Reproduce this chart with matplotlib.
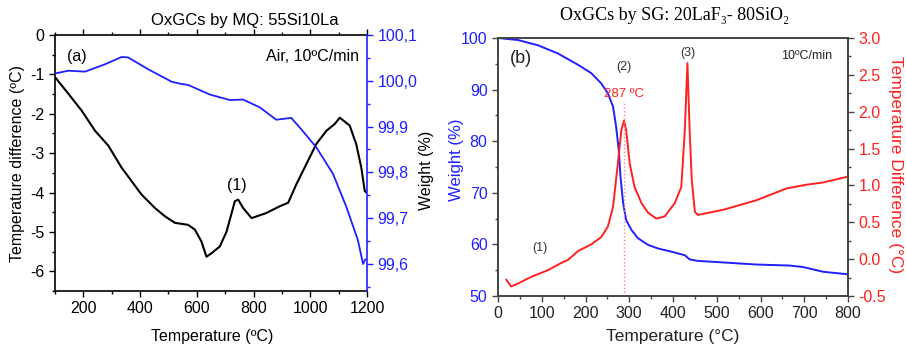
import matplotlib
matplotlib.use("Agg")
import matplotlib.pyplot as plt
from matplotlib.ticker import MultipleLocator, FuncFormatter

plt.rcParams['font.family'] = ['Liberation Sans', 'DejaVu Sans']

# ---- Panel (a) data ----
a_T_dta = [100, 147, 194, 241, 288, 335, 405, 452, 487, 523, 569, 593, 616, 634, 652, 681, 705, 734, 746,
           763, 793, 845, 892, 922, 951, 986, 1021, 1057, 1086, 1104, 1139, 1162, 1180, 1192, 1198]
a_dta = [-1.07, -1.49, -1.92, -2.43, -2.81, -3.37, -4.05, -4.39, -4.60, -4.77, -4.82, -4.94, -5.24, -5.63,
         -5.54, -5.37, -4.99, -4.22, -4.18, -4.39, -4.65, -4.52, -4.35, -4.26, -3.79, -3.28, -2.77, -2.43,
         -2.26, -2.10, -2.30, -2.77, -3.37, -3.96, -4.00]
a_T_tga = [100, 147, 206, 276, 335, 358, 429, 511, 546, 569, 646, 716, 763, 822, 880, 933, 963, 1021, 1080,
           1127, 1168, 1186, 1194]
a_tga = [100.016, 100.022, 100.020, 100.036, 100.052, 100.051, 100.025, 99.998, 99.993, 99.991, 99.970,
         99.958, 99.959, 99.942, 99.915, 99.919, 99.898, 99.855, 99.797, 99.725, 99.652, 99.600, 99.610]

# ---- Panel (b) data ----
b_T_w = [0, 46, 91, 137, 183, 213, 236, 251, 263, 270, 276, 280, 286, 293, 305, 320, 343, 366, 396, 427,
         438, 457, 515, 591, 667, 698, 743, 800]
b_w = [100.0, 99.6, 98.6, 97.0, 94.8, 93.2, 91.2, 89.3, 86.7, 82.8, 78.3, 73.1, 68.0, 64.7, 62.8, 61.2,
       59.9, 59.2, 58.6, 57.9, 57.1, 56.8, 56.5, 56.1, 55.9, 55.6, 54.7, 54.2]
b_T_d = [19, 30, 46, 76, 114, 145, 160, 183, 213, 236, 251, 263, 274, 282, 288, 293, 301, 312, 328, 343,
         362, 381, 404, 419, 427, 433, 438, 443, 450, 457, 515, 591, 660, 705, 743, 800]
b_d = [-0.28, -0.37, -0.33, -0.24, -0.15, -0.05, -0.01, 0.11, 0.20, 0.30, 0.44, 0.71, 1.30, 1.75, 1.88,
       1.75, 1.30, 0.98, 0.76, 0.63, 0.55, 0.58, 0.76, 0.98, 1.75, 2.66, 1.75, 1.07, 0.64, 0.60, 0.67,
       0.80, 0.96, 1.01, 1.04, 1.12]
peak_T = 287
peak_line_top = 2.12

fig = plt.figure(figsize=(9.06, 3.48), dpi=100)
W, H = 906, 348

def rect(l, t, r, b):
    return [l / W, 1 - b / H, (r - l) / W, (b - t) / H]

FS = 11.5
BLUE = '#2020ff'

# ---------------- Panel (a) ----------------
ax = fig.add_axes(rect(55, 35, 367, 291))
ax.plot(a_T_dta, a_dta, color='black', lw=1.5)
ax.set_xlim(100, 1200)
ax.set_ylim(-6.5, 0)
ax.xaxis.set_major_locator(MultipleLocator(200))
ax.xaxis.set_minor_locator(MultipleLocator(100))
ax.yaxis.set_major_locator(MultipleLocator(1))
ax.yaxis.set_minor_locator(MultipleLocator(0.5))
ax.yaxis.set_major_formatter(FuncFormatter(lambda v, p: "0" if abs(v) < 1e-9 else f"{v:.0f}"))
ax.tick_params(axis='both', which='both', direction='out', labelsize=FS, width=1)
ax.tick_params(which='major', length=4)
ax.tick_params(which='minor', length=2.5)
ax.tick_params(axis='x', which='both', top=True, labeltop=False)
ax.set_ylabel('Temperature difference (ºC)', fontsize=FS, labelpad=4)
for s in ax.spines.values():
    s.set_linewidth(1.2)
ax.spines['right'].set_visible(False)
fig.text(212 / W, 1 - 336 / H, 'Temperature (ºC)', fontsize=FS, ha='center', va='center')

axr = ax.twinx()
axr.plot(a_T_tga, a_tga, color=BLUE, lw=1.3)
axr.set_ylim(99.541, 100.1)
axr.yaxis.set_major_locator(MultipleLocator(0.1))
axr.yaxis.set_minor_locator(MultipleLocator(0.05))
axr.yaxis.set_major_formatter(FuncFormatter(lambda v, p: f"{v:.1f}".replace('.', ',')))
axr.tick_params(axis='y', which='both', direction='out', colors=BLUE, labelsize=FS, width=1)
axr.tick_params(which='major', length=4)
axr.tick_params(which='minor', length=2.5)
axr.spines['right'].set_color(BLUE)
axr.spines['right'].set_linewidth(1.2)
for k in ['left', 'top', 'bottom']:
    axr.spines[k].set_visible(False)

ax.text(0.04, 0.945, '(a)', transform=ax.transAxes, fontsize=FS, va='top', ha='left')
ax.text(0.975, 0.945, 'Air, 10ºC/min', transform=ax.transAxes, fontsize=FS, va='top', ha='right')
ax.text(740, -4.0, '(1)', fontsize=FS, ha='center', va='bottom')

fig.text(245 / W, 1 - 20 / H, 'OxGCs by MQ: 55Si10La', fontsize=12, ha='center', va='center')
fig.text(427 / W, 1 - 170 / H, 'Weight (%)', fontsize=FS, rotation=90, ha='center', va='center',
         color='black')

# ---------------- Panel (b) ----------------
GRAY = '#444444'
RED = '#ff2020'
bx = fig.add_axes(rect(498, 38, 848, 296))
bx.plot(b_T_w, b_w, color=BLUE, lw=1.4)
bx.set_xlim(0, 800)
bx.set_ylim(50, 100)
bx.xaxis.set_major_locator(MultipleLocator(100))
bx.xaxis.set_minor_locator(MultipleLocator(50))
bx.yaxis.set_major_locator(MultipleLocator(10))
bx.yaxis.set_minor_locator(MultipleLocator(5))
bx.tick_params(axis='both', which='both', direction='out', labelsize=FS, colors=GRAY, width=1)
bx.tick_params(axis='y', which='both', labelcolor=BLUE)
bx.tick_params(axis='x', which='both', labelcolor='#222222')
bx.tick_params(which='major', length=4)
bx.tick_params(which='minor', length=2.5)
for s in bx.spines.values():
    s.set_color(GRAY)
    s.set_linewidth(1.2)
fig.text(673 / W, 1 - 336 / H, 'Temperature (°C)', fontsize=12.5, ha='center', va='center',
         color='#222222')
fig.text(457 / W, 1 - 160 / H, 'Weight (%)', fontsize=12, rotation=90, ha='center', va='center',
         color=BLUE)

bxr = bx.twinx()
bxr.plot(b_T_d, b_d, color=RED, lw=1.4)
bxr.plot([peak_T, peak_T], [-0.5, peak_line_top], color='#ff8080', lw=1, ls=':')
bxr.set_ylim(-0.5, 3.0)
bxr.yaxis.set_major_locator(MultipleLocator(0.5))
bxr.yaxis.set_minor_locator(MultipleLocator(0.25))
bxr.yaxis.set_major_formatter(FuncFormatter(lambda v, p: f"{v:.1f}".replace('−', '-')))
bxr.tick_params(axis='y', which='both', direction='out', colors=GRAY, labelcolor=RED, labelsize=FS, width=1)
bxr.tick_params(which='major', length=4)
bxr.tick_params(which='minor', length=2.5)
for s in bxr.spines.values():
    s.set_color(GRAY)
    s.set_linewidth(1.2)
fig.text(895 / W, 1 - 165 / H, 'Temperature Difference (°C)', fontsize=12.5, color=RED, rotation=-90,
         ha='center', va='center')

bx.text(0.035, 0.955, '(b)', transform=bx.transAxes, fontsize=13, va='top', ha='left', color='#222222')
bx.text(0.955, 0.955, '10ºC/min', transform=bx.transAxes, fontsize=9, va='top', ha='right', color='#222222')
bxr.text(peak_T, 2.61, '(2)', fontsize=9, ha='center', va='center', color='#333333')
bxr.text(433, 2.80, '(3)', fontsize=9, ha='center', va='center', color='#333333')
bxr.text(peak_T, 2.24, '287 ºC', fontsize=9.5, ha='center', va='center', color=RED)
bxr.text(96, 0.15, '(1)', fontsize=9, ha='center', va='center', color='#333333')

fig.text(675 / W, 1 - 15 / H, 'OxGCs by SG: 20LaF₃- 80SiO₂', fontsize=13, ha='center', va='center',
         family=['Liberation Serif', 'DejaVu Serif'])

fig.savefig('out.png', dpi=100)
